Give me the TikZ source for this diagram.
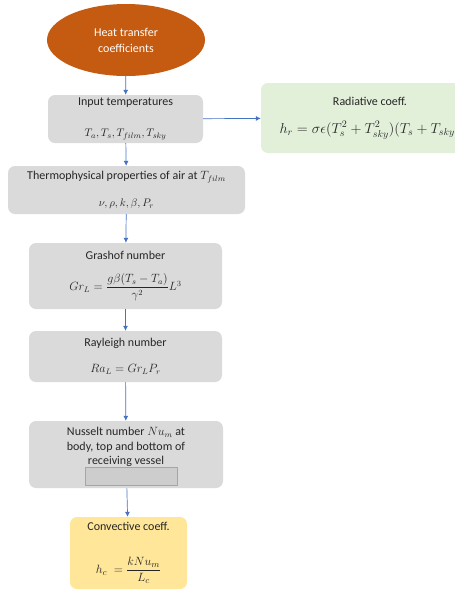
\documentclass[tikz,border=0pt]{standalone}
\usepackage{amsmath}
\usepackage[no-math]{fontspec}
\setmainfont{Carlito}
\usetikzlibrary{shapes.geometric,arrows.meta}
\definecolor{boxgray}{HTML}{DADADA}
\definecolor{innergray}{HTML}{CDCDCD}
\definecolor{radgreen}{HTML}{E2EFD9}
\definecolor{convyellow}{HTML}{FFE699}
\definecolor{startorange}{HTML}{C55A11}
\definecolor{flowblue}{HTML}{4472C4}
\definecolor{txtgray}{HTML}{262626}
\newcommand{\mathsz}[1]{\fontsize{#1}{14}\selectfont}

\begin{document}
\begin{tikzpicture}[x=1pt,y=-1pt,
	box/.style={fill=boxgray,rounded corners=7pt,align=center,inner sep=0pt,text=txtgray,font=\fontsize{12}{14}\selectfont},
	flow/.style={draw=flowblue,line width=0.7pt,-{Latex[length=5pt,width=5pt]}}]
	\useasboundingbox (0,0) rectangle (455,590); % page size
	\node[ellipse,fill=startorange,text=white,minimum width=158pt,minimum height=72pt,align=center,font=\fontsize{12}{16}\selectfont] (start) at (126,40) {Heat transfer\\coefficients}; % start ellipse
	\node[box,minimum width=155pt,minimum height=48pt] (inp) at (125.5,119) {Input temperatures\\[17pt]\mathsz{11}$T_a,T_s,T_{film},T_{sky}$}; % input box
	\node[box,fill=radgreen,minimum width=218pt,minimum height=70pt] (rad) at (370,118) {Radiative coeff.\\[14pt]\mathsz{14}$h_r=\sigma\epsilon(T_s^2+T_{sky}^2)(T_s+T_{sky})$}; % radiative box
	\node[box,minimum width=237pt,minimum height=48pt] (thermo) at (126.5,190) {Thermophysical properties of air at $T_{film}$\\[13pt]\mathsz{11}$\nu,\rho,k,\beta,P_r$}; % air properties
	\node[box,minimum width=193pt,minimum height=66pt] (gr) at (125.5,276) {Grashof number\\[13pt]$Gr_L=\dfrac{g\beta(T_s-T_a)}{\gamma^2}L^3$}; % grashof box
	\node[box,minimum width=193pt,minimum height=51pt] (ra) at (125.5,356.5) {Rayleigh number\\[12pt]$Ra_L=Gr_LP_r$}; % rayleigh box
	\node[box,minimum width=194pt,minimum height=67pt] (nu) at (126,454.5) {}; % nusselt box
	\node[align=center,text=txtgray,font=\fontsize{12}{14.5}\selectfont] (nutxt) at (126,447) {Nusselt number $Nu_m$ at\\body, top and bottom of\\receiving vessel}; % nusselt text
	\node[draw=gray!70,fill=innergray,minimum width=92pt,minimum height=18pt,inner sep=0pt] (nuin) at (131,476) {}; % small inner box
	\node[box,fill=convyellow,minimum width=117pt,minimum height=72pt] (conv) at (128.5,553) {Convective coeff.\\[25pt]\mathsz{12.5}$h_c\;=\dfrac{kNu_m}{L_c}$}; % convective box
	\draw[flow] (start) -- (inp); % arrows
	\draw[flow] (inp) -- (rad);
	\draw[flow] (inp) -- (thermo);
	\draw[flow] (thermo) -- (gr);
	\draw[flow] (gr) -- (ra);
	\draw[flow] (ra) -- (nu);
	\draw[flow] (nu) -- (conv);
\end{tikzpicture}
\end{document}
